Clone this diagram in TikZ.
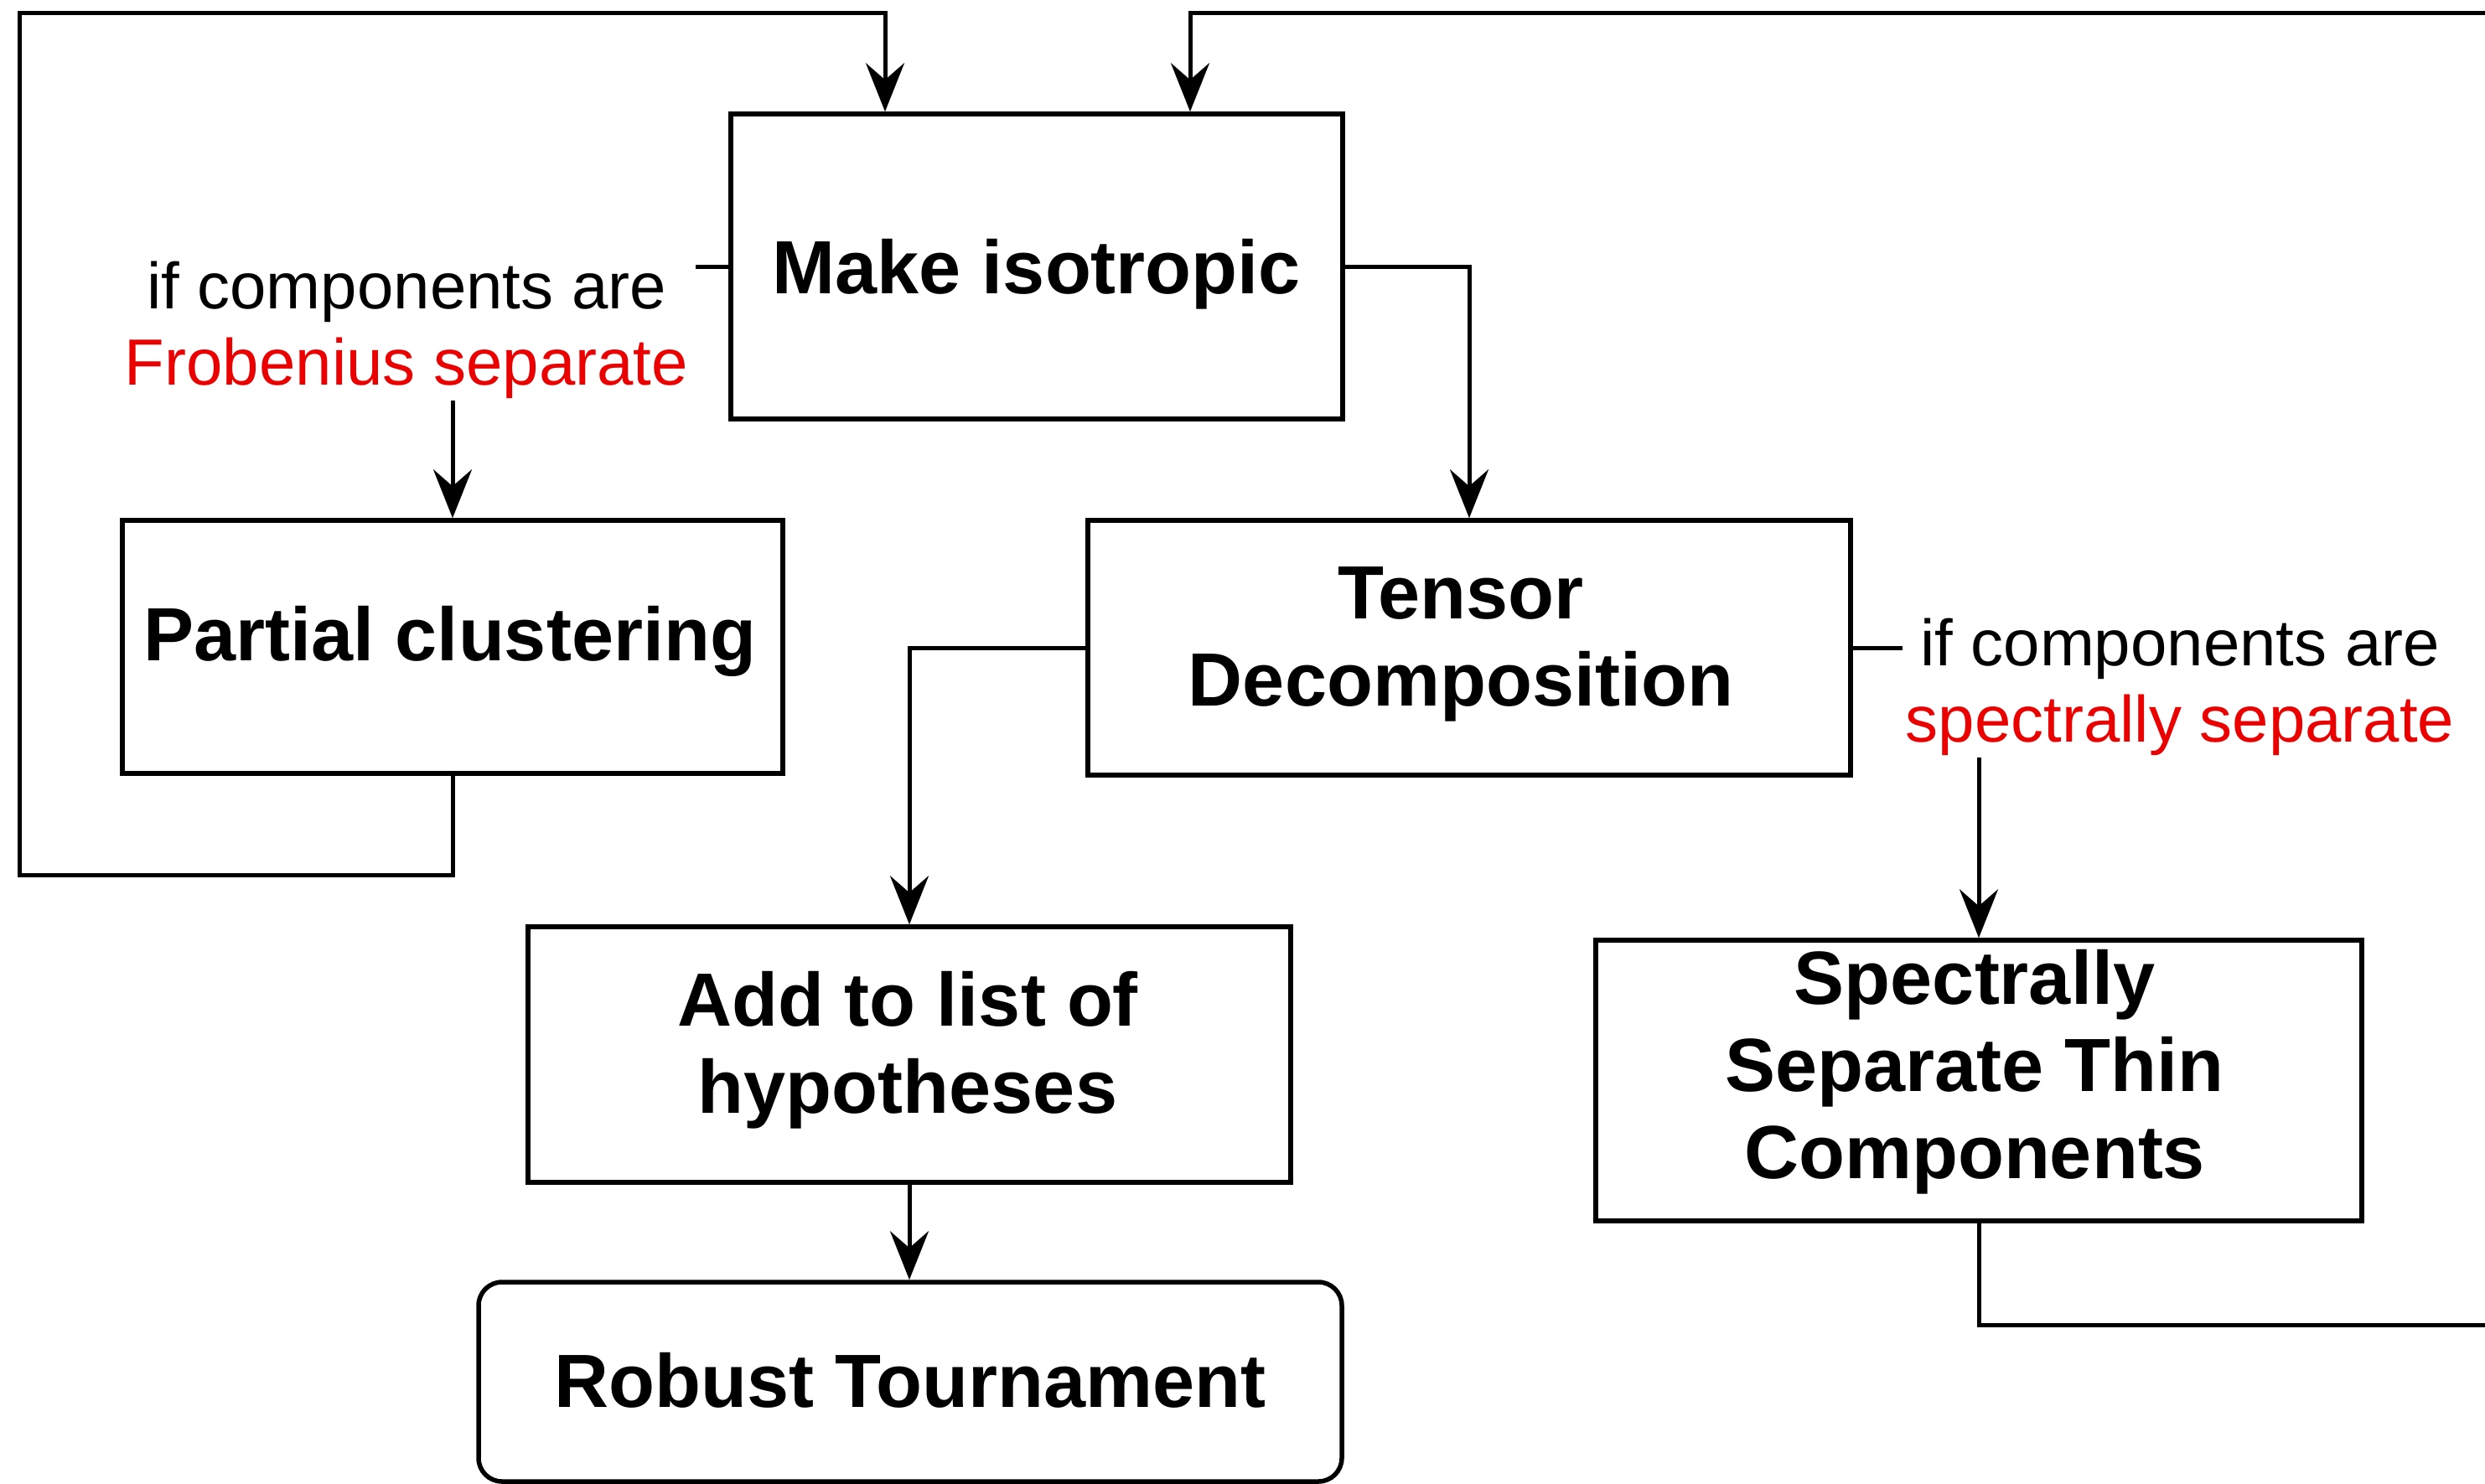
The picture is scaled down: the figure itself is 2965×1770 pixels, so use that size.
\documentclass[tikz,border=0pt]{standalone}
\usepackage{fontspec}
\setmainfont{Liberation Sans}
\usetikzlibrary{arrows.meta}
\definecolor{lblred}{RGB}{235,0,0}
\begin{document}
\begin{tikzpicture}[x=1pt,y=-1pt,
  box/.style={draw,line width=5.5pt,inner sep=0pt},
  btxt/.style={font=\bfseries\fontsize{90}{104}\selectfont,align=center,inner sep=0pt,anchor=base},
  ltxt/.style={font=\fontsize{78}{91}\selectfont,align=center,inner sep=0pt,anchor=base},
  conn/.style={line width=5pt},
  arr/.style={line width=5pt,-{Stealth[length=58pt,width=46pt,inset=20pt]}}]
\fill[white] (0,0) rectangle (2965,1770);
\useasboundingbox (0,0) rectangle (2965,1770);
% boxes
\node[box,minimum width=730pt,minimum height=364pt] (make) at (1237,318) {};
\node[box,minimum width=788pt,minimum height=302pt] (part) at (540,772) {};
\node[box,minimum width=910pt,minimum height=304pt] (tens) at (1753,773) {};
\node[box,minimum width=910pt,minimum height=305pt] (add) at (1085,1258.5) {};
\node[box,minimum width=914pt,minimum height=335pt] (spec) at (2361,1289.5) {};
\node[box,rounded corners=28pt,minimum width=1030pt,minimum height=238pt] (rob) at (1086,1649) {};
% texts (anchor base = baseline of the last line)
\node[btxt] (maket) at (1237,350) {Make isotropic};
\node[btxt] (partt) at (537,788) {Partial clustering};
\node[btxt] (tenst) at (1743,842) {Tensor\\Decomposition};
\node[btxt] (addt) at (1083,1328) {Add to list of\\hypotheses};
\node[btxt] (spect) at (2356,1406) {Spectrally\\Separate Thin\\Components};
\node[btxt] (robt) at (1086,1679) {Robust Tournament};
\node[ltxt] (lab1) at (485,459) {if components are\\\textcolor{lblred}{Frobenius separate}};
\node[ltxt] (lab2) at (2601,885) {if components are\\\textcolor{lblred}{spectrally separate}};
% coordinates
\coordinate (s1) at (830,318);
\coordinate (f1) at (540,478);
\coordinate (lb) at (23,1044);
\coordinate (lt) at (1056,15);
\coordinate (s2) at (2270,773);
\coordinate (f2) at (2361,904);
\coordinate (rb) at (2995,1581);
\coordinate (rt) at (1420,15);
% connectors
\draw[conn] (make.west |- s1) -- (s1);
\draw[arr] (f1) -- (part.north);
\draw[arr] (part.south) |- (lb) |- (lt) -- (lt |- make.north);
\draw[arr] (make.east) -| (tens.north);
\draw[arr] (tens.west) -| (add.north);
\draw[arr] (add.south) -- (add.south |- rob.north);
\draw[conn] (tens.east) -- (s2);
\draw[arr] (f2) -- (spec.north);
\draw[arr] (spec.south) |- (rb) |- (rt) -- (rt |- make.north);
\end{tikzpicture}
\end{document}
